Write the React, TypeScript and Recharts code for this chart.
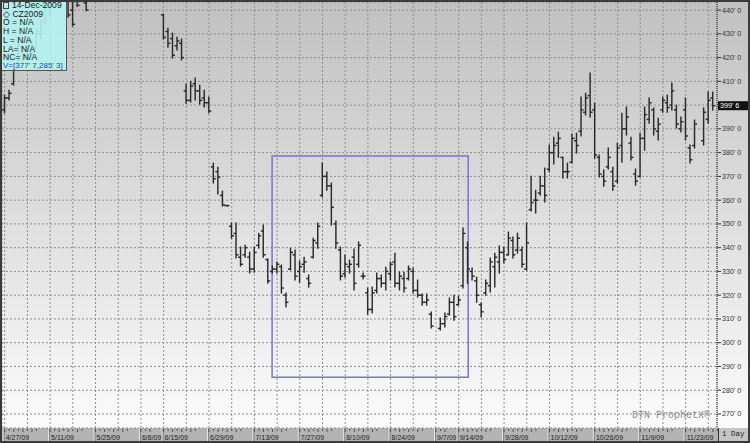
import React from 'react';
import {
  ComposedChart,
  Bar,
  XAxis,
  YAxis,
  CartesianGrid,
  ReferenceLine,
  ReferenceArea,
} from 'recharts';

// CZ2009 daily bars, one slot per trading day from Mon 4/27/09 (null = nothing visible)
const opens: (number | null)[] = [
  398, 403, 409, 418, 424, 421, 426, 424, 430, 435,
  440, null, null, null, 445, 440, 447, null, 443, null,
  null, null, null, null, null, null, null, null, null, null,
  null, null, null, null, null, 438, 431, 428, 425, 426,
  406, 402, 409, 406, 403, 401, 374, 372, 362, 357.7,
  349, 346, 336, 337, 336, 331, 341, 347, 335, 330,
  331, 332, 320, 331, 337, 330, 333, 327, 336, 342,
  362, 370, 366, 350, 339, 329, 332, 336, 333, 328,
  321, 314, 322, 327, 325, 329, 334, 325, 327, 327,
  330, 322, 320, 317, 312, null, 306, 308, 312, 317,
  316, 324, 340, 330, 326, 316, 321, 324, 332, 334,
  338, 337, 343, 339, 339, 331, 356, 360, 363, 366,
  373, 380, 384, 378, 372, 376, 385, 389, 397, 404,
  398, 378, 370, 374, 372, 368, 383, 390, 384, 371,
  370, 386, 394, 398, 389, 398, 401, 400, 398, 390,
  398, 382, 383, null, 385, 394, 403,
];

const highs: (number | null)[] = [
  404.2, 406.3, 417.7, 427.4, 425, 428, 427, 432, 436, 442,
  446, null, null, null, 446, 447, 448, null, 443.5, null,
  null, null, null, null, null, null, null, null, null, null,
  null, null, null, null, null, 438.3, 432.4, 430.3, 428.6, 427.8,
  408.8, 410, 411.4, 408.4, 406.3, 403.4, 375.6, 373.9, 363.8, 357.9,
  350.4, 350.4, 340.3, 341, 338.1, 340.3, 346, 349.5, 335.2, 332.3,
  334, 332.7, 320.9, 339.8, 339, 334.4, 336, 328.5, 344, 350.4,
  375.6, 371.8, 367.2, 351.2, 340.3, 336.9, 334.8, 339.4, 342.4, 329.3,
  323, 323.4, 329.3, 328.5, 331.8, 334, 337.7, 329.7, 329.7, 332.3,
  331.4, 326.4, 320.5, 320.5, 312.9, null, 310.4, 312.5, 318.8, 320,
  319.6, 348.3, 342.4, 331.4, 327.6, 316.7, 326.4, 335.6, 337.7, 340.7,
  340.3, 346.6, 344.5, 346.1, 340.3, 350.4, 370.1, 364.2, 370.1, 373.5,
  383.2, 386.5, 388.6, 378.1, 375.6, 387.8, 388.2, 403.4, 405, 413.5,
  400.8, 379, 372.7, 381.9, 373.9, 384, 396.6, 399.2, 386.5, 373.1,
  388.2, 399.2, 403, 398.8, 394.5, 403.4, 404.2, 409.3, 400, 395,
  403, 383.2, 393.7, null, 398.8, 405.5, 405.5,
];

const lows: (number | null)[] = [
  396.7, 402.1, 408.4, 417.7, 418, 420, 421, 424, 428, 434,
  437, null, null, null, 437, 433.3, 441.5, null, 439.7, null,
  null, null, null, null, null, null, null, null, null, null,
  null, null, null, null, null, 427.8, 424.4, 419.8, 423.2, 419,
  400.8, 401.3, 402.1, 400.4, 399.2, 396.7, 367.2, 362.6, 357.5, 357.5,
  344, 335.6, 332.3, 336, 329.3, 329.7, 339.8, 336, 325, 329.3,
  329.3, 320.9, 315, 330.6, 326.4, 325.5, 329.7, 323.4, 335.6, 339.8,
  361.3, 364.2, 349.5, 339.8, 326.4, 327.6, 329.3, 322.2, 331.8, 326.8,
  312, 312.5, 320.9, 323.4, 322.2, 326.4, 323.4, 322.2, 321.3, 326.4,
  320.9, 319.2, 315.8, 315.8, 306.2, null, 305.3, 306.6, 311.6, 309.5,
  315.8, 323, 325, 326.4, 317, 310.8, 320, 321.3, 323.4, 329.3,
  333.5, 336.9, 335.6, 337.7, 331.8, 330.6, 355.4, 354.6, 362.1, 359.2,
  371.8, 375.2, 378, 369.3, 369.3, 375.6, 379.8, 387, 395.8, 395,
  377.7, 369.7, 365.9, 373.1, 364.2, 367.2, 376, 387.4, 376.9, 366.3,
  369.7, 381, 392.4, 387.4, 385.3, 397, 397, 397.9, 390.3, 388.7,
  385.3, 375.6, 381.9, null, 383.2, 392.4, 397.9,
];

const closes: (number | null)[] = [
  403, 405, 416, 425, 420, 427, 422, 431, 435, 441,
  444, null, null, null, 438, 434, 442, null, 440, null,
  null, null, null, null, null, null, null, null, null, null,
  null, null, null, null, null, 428.5, 426, 421, 427, 420,
  402, 408, 406, 402, 401, 397.5, 369, 369.7, 358, 357.7,
  345, 337, 333, 340, 331, 338, 345, 337, 326, 331,
  333, 323, 317, 338, 328, 332, 334, 325, 343, 349,
  370, 366, 357, 342, 328, 333, 333, 325, 341, 328,
  314, 321, 327, 325, 330, 333, 325, 328, 323, 331,
  322, 320, 317, 318, 307, null, 308, 311, 317, 311,
  318, 346, 331, 328, 320, 313, 325, 334, 336, 338,
  335, 344, 337, 344, 333, 342, 359, 360, 366, 362,
  380, 383, 386, 372, 372, 386, 383, 398, 403, 397,
  379, 371, 368, 378, 366, 382, 390, 395, 378, 368,
  386, 396, 401, 390, 392, 402, 399, 406, 392, 393,
  387, 377, 392, null, 397, 402, 399.75,
];

// one entry per week, '' = no label under that week
const weekLabels = [
  '4/27/09', '', '5/11/09', '', '5/25/09', '', '6/8/09', '6/15/09', '', '6/29/09',
  '', '7/13/09', '', '7/27/09', '', '8/10/09', '', '8/24/09', '', '9/7/09',
  '9/14/09', '', '9/28/09', '', '10/12/09', '', '10/26/09', '', '11/9/09', '',
  '11/23/09', '',
];

const priceTicks = [270, 280, 290, 300, 310, 320, 330, 340, 350, 360, 370, 380, 390, 400, 410, 420, 430, 440];

const lastPrice = 399.75;
const lastPriceText = "399' 6";

// hand-drawn study box (day slots / cents)
const zoneBox = { x1: 58.9, x2: 102.1, y1: 285.5, y2: 378.6 };

const infoLines = ['O = N/A', 'H = N/A', 'L = N/A', 'LA= N/A', 'NC= N/A'];

const X_MIN = -0.6;
const X_MAX = 156.9;
const Y_MIN = 264.1;
const Y_MAX = 443.4;
const PLOT_W = 715;
const DAY_PX = PLOT_W / (X_MAX - X_MIN);

const data = highs.map((h, i) => ({
  p: i,
  range: h == null || lows[i] == null ? null : [lows[i], h],
  open: opens[i],
  close: closes[i],
  high: h,
  low: lows[i],
}));

const weekStarts = weekLabels.map((_, w) => w * 5);

function OhlcBar(props: any) {
  const { x, y, width, height, payload } = props;
  if (!payload || payload.high == null) return null;
  const top = Math.min(y, y + height);
  const h = Math.abs(height);
  const cx = x + width / 2;
  const span = payload.high - payload.low;
  const yAt = (v: number) => (span === 0 ? top : top + ((payload.high - v) / span) * h);
  const yo = yAt(payload.open);
  const yc = yAt(payload.close);
  return (
    <g stroke="#2b2b2b" strokeWidth={1.45}>
      <line x1={cx} x2={cx} y1={top - 0.5} y2={top + h + 0.5} />
      <line x1={cx - 2.5} x2={cx} y1={yo} y2={yo} />
      <line x1={cx} x2={cx + 2.5} y1={yc} y2={yc} />
    </g>
  );
}

function DateTick(props: any) {
  const { x, y, payload } = props;
  const w = Math.round(payload.value / 5);
  const label = weekLabels[w];
  if (!label) return null;
  let next = w + 1;
  while (next < weekLabels.length && !weekLabels[next]) next++;
  const days = (next - w) * 5;
  const marks = [];
  for (let d = 0; d <= days - 3; d++) {
    const mx = x + d * DAY_PX;
    marks.push(<line key={d} x1={mx} x2={mx} y1={y + 1} y2={y + (d % 2 ? 3 : 4)} stroke="#3a3a3a" strokeWidth={0.8} />);
  }
  return (
    <g>
      <line x1={x - 1.5} x2={x - 1.5} y1={y} y2={y + 14} stroke="#e8e8e8" strokeWidth={1} />
      <line x1={x - 0.5} x2={x - 0.5} y1={y} y2={y + 14} stroke="#777" strokeWidth={0.8} />
      {marks}
      <text x={x + 1} y={y + 12} fontSize={7} fill="#1a1a1a" fontFamily="Liberation Sans">
        {label}
      </text>
    </g>
  );
}

function PriceTick(props: any) {
  const { x, y, payload } = props;
  // the last-price tag sits on top of this one
  if (Math.abs(payload.value - lastPrice) < 3) return null;
  return (
    <text x={x} y={y + 2.5} fontSize={7.2} fill="#333" fontFamily="Liberation Sans">
      {`${payload.value}' 0`}
    </text>
  );
}

function PriceTag(props: any) {
  const vb = props.viewBox;
  if (!vb) return null;
  const left = vb.x + vb.width + 1;
  return (
    <g>
      <rect x={left} y={vb.y - 4.5} width={30} height={9} fill="#111" />
      <text x={left + 2} y={vb.y + 2.5} fontSize={7.2} fill="#fff" fontFamily="Liberation Sans">
        {lastPriceText}
      </text>
    </g>
  );
}

export default function App() {
  return (
    <div
      style={{
        position: 'absolute',
        left: 0,
        top: 0,
        width: 750,
        height: 443,
        overflow: 'hidden',
        fontFamily: 'Liberation Sans, Arial, sans-serif',
      }}
    >
      {/* chart background */}
      <div
        style={{
          position: 'absolute',
          left: 0,
          top: 0,
          width: 750,
          height: 428,
          background: 'linear-gradient(#c0c0c0, #fbfbfb)',
        }}
      />
      {/* date band */}
      <div style={{ position: 'absolute', left: 0, top: 428, width: 718, height: 15, background: '#b3b3b3' }} />

      <div style={{ position: 'absolute', left: 0, top: 0 }}>
        <ComposedChart width={750} height={443} data={data} margin={{ top: 2, right: 0, bottom: 0, left: 2 }}>
          <CartesianGrid stroke="#8e8e8e" strokeDasharray="2 2" />
          <XAxis
            dataKey="p"
            type="number"
            domain={[X_MIN, X_MAX]}
            allowDataOverflow
            ticks={weekStarts}
            interval={0}
            height={15}
            tickSize={0}
            tickMargin={0}
            tickLine={false}
            axisLine={false}
            tick={<DateTick />}
          />
          <YAxis
            orientation="right"
            type="number"
            domain={[Y_MIN, Y_MAX]}
            allowDataOverflow
            ticks={priceTicks}
            interval={0}
            width={33}
            tickSize={4}
            tickMargin={1}
            tickLine={{ stroke: '#333' }}
            axisLine={{ stroke: '#222', strokeDasharray: '1 1' }}
            tick={<PriceTick />}
          />
          <Bar dataKey="range" barSize={5} shape={(p: any) => <OhlcBar {...p} />} isAnimationActive={false} />
          <ReferenceArea
            x1={zoneBox.x1}
            x2={zoneBox.x2}
            y1={zoneBox.y1}
            y2={zoneBox.y2}
            fill="none"
            stroke="#7676cf"
            strokeWidth={1.5}
            ifOverflow="visible"
          />
          <ReferenceLine y={lastPrice} stroke="none" label={(p: any) => <PriceTag {...p} />} />
        </ComposedChart>
      </div>

      {/* quote box */}
      <div
        style={{
          position: 'absolute',
          left: 0,
          top: 0,
          width: 67,
          height: 71,
          boxSizing: 'border-box',
          background: 'rgba(178, 242, 240, 0.9)',
          borderRight: '1px solid #555',
          borderBottom: '1px solid #555',
          paddingTop: 1,
          paddingLeft: 3,
          fontSize: 8.6,
          lineHeight: '8.7px',
          color: '#1a1a1a',
          whiteSpace: 'nowrap',
        }}
      >
        <div>
          <span style={{ display: 'inline-block', width: 4, height: 5, border: '1px solid #444', marginRight: 3, verticalAlign: 'middle' }} />
          14-Dec-2009
        </div>
        <div>&#x25C7; CZ2009</div>
        {infoLines.map((t) => (
          <div key={t}>{t}</div>
        ))}
        <div style={{ color: '#2b40c4', fontSize: 8 }}>V=[377' 7,285' 3]</div>
      </div>

      {/* watermark */}
      <div
        style={{
          position: 'absolute',
          left: 632,
          top: 410,
          fontFamily: 'Liberation Mono, DejaVu Sans Mono, monospace',
          fontSize: 10,
          color: '#8a8a8a',
          whiteSpace: 'nowrap',
        }}
      >
        DTN ProphetX&reg;
      </div>

      {/* interval box */}
      <div
        style={{
          position: 'absolute',
          left: 718,
          top: 428,
          width: 32,
          height: 15,
          boxSizing: 'border-box',
          background: '#c4c4c4',
          borderLeft: '1px solid #333',
          fontFamily: 'Liberation Mono, monospace',
          fontSize: 7.5,
          lineHeight: '13px',
          paddingLeft: 3,
          color: '#222',
        }}
      >
        1 Day
      </div>

      {/* frame */}
      <div
        style={{
          position: 'absolute',
          left: 0,
          top: 0,
          width: 750,
          height: 443,
          boxSizing: 'border-box',
          border: '2px solid #3a3a3a',
          pointerEvents: 'none',
        }}
      />
    </div>
  );
}
